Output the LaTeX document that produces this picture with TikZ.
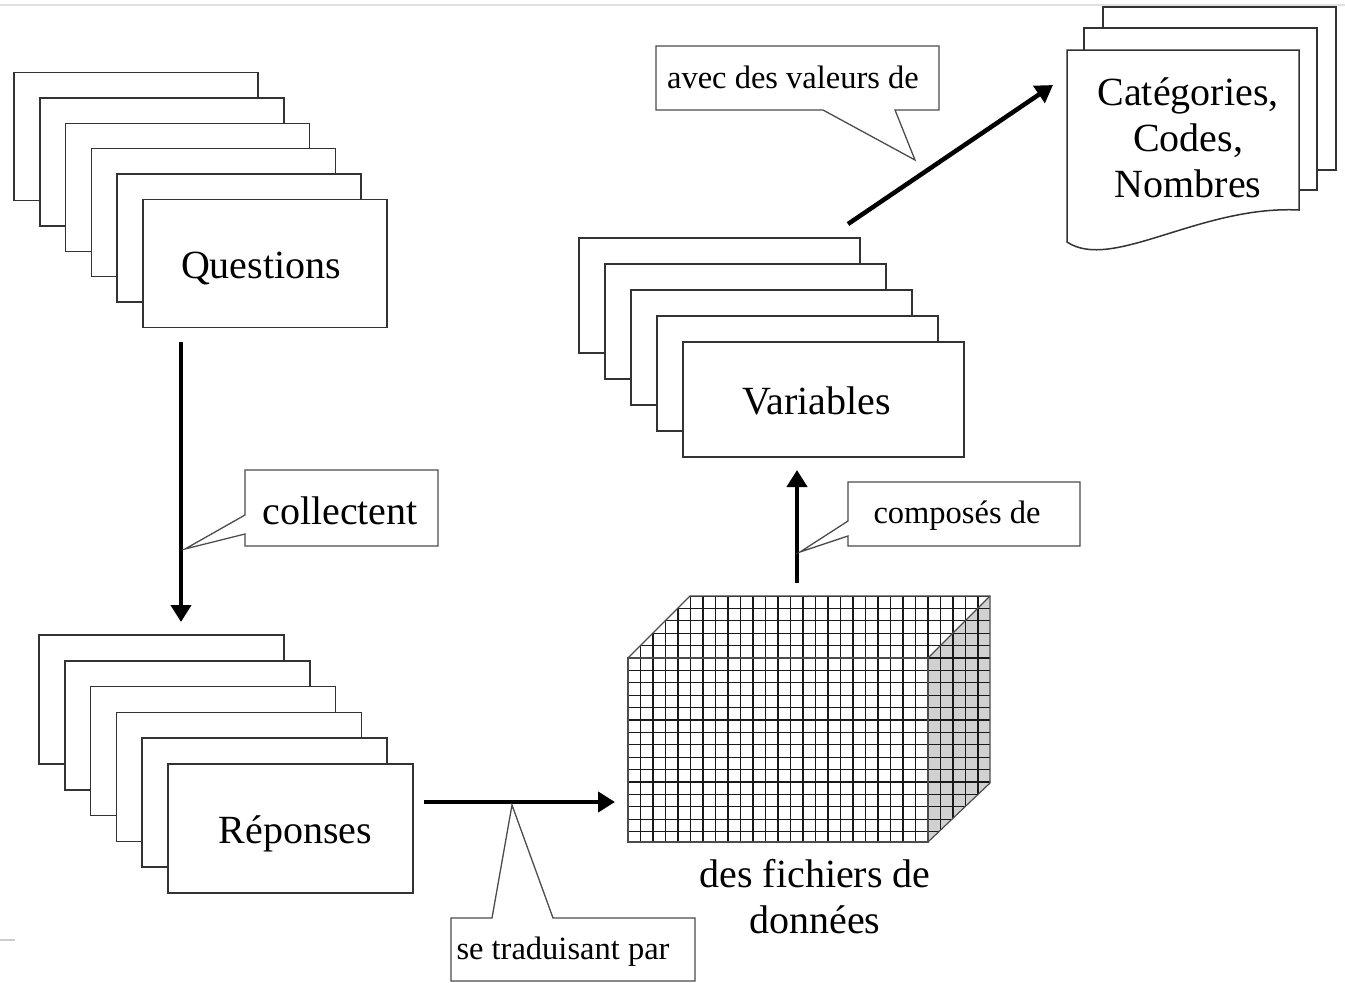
\documentclass[tikz,border=0pt]{standalone}
\usepackage{fontspec}
\setmainfont{Liberation Serif}
\usetikzlibrary{arrows.meta,calc}
\begin{document}
\begin{tikzpicture}[x=1pt,y=-1pt,
  card/.style={draw=black!80,line width=1.5pt,fill=white,inner sep=0pt,
    text height=29pt,text depth=0pt,
    font=\fontsize{40}{47}\selectfont},
  callout/.style={draw=black!70,line width=1.3pt,fill=white,line join=miter},
  small/.style={font=\fontsize{32.5}{38}\selectfont,inner sep=0pt},
  big/.style={font=\fontsize{40}{47}\selectfont,inner sep=0pt,align=center},
  arr/.style={line width=4.5pt,-{Triangle[length=17pt,width=20pt]}},
  gridl/.style={black!90,line width=1.2pt},
  edge/.style={black!70,line width=1.2pt}]
\useasboundingbox (0,0) rectangle (1345,983);
% frame artifacts
\draw[black!12,line width=2pt] (0,5) -- (1345,5);
\draw[black!20,line width=1.5pt] (0,940) -- (15,940);

% Questions stack
\foreach \k in {5,...,1}
  \node[card,minimum width=244pt,minimum height=128pt] (qb\k) at (265-25.8*\k,263.5-25.4*\k) {};
\node[card,minimum width=244pt,minimum height=128pt] (q) at (265,263.5) {Questions\hspace*{8pt}};

% Reponses stack
\foreach \k in {5,...,1}
  \node[card,minimum width=245pt,minimum height=129pt] (rb\k) at (290.5-25.8*\k,828.5-25.8*\k) {};
\node[card,minimum width=245pt,minimum height=129pt] (r) at (290.5,828.5) {\hspace*{10pt}Réponses};

% Variables stack
\foreach \k in {4,...,1}
  \node[card,minimum width=281pt,minimum height=115pt] (vb\k) at (823.5-26*\k,399.5-26*\k) {};
\node[card,minimum width=281pt,minimum height=115pt] (v) at (823.5,399.5) {Variables\hspace*{14pt}};

% document stack
\draw[callout,draw=black!80,line width=1.5pt] (1103,7) rectangle (1336,170);
\draw[callout,draw=black!80,line width=1.5pt] (1084,28) rectangle (1317,190);
\draw[callout,draw=black!80,line width=1.5pt] (1067,242) -- (1067,50) -- (1299,50) -- (1299,210)
   .. controls (1200,205) and (1112,272) .. (1067,242) -- cycle;
\node[big] (doc) at (1188,138) {Catégories,\\[-1pt]Codes,\\[-1pt]Nombres};

% cube
\begin{scope}
\clip (628,658) -- (690,596) -- (990,596) -- (990,783) -- (928,842) -- (628,842) -- cycle;
\fill[black!18] (928,658) -- (990,596) -- (990,783) -- (928,842) -- cycle;
\foreach \i in {0,...,29} \draw[gridl] (628+\i*12.5,590) -- ++(0,260);
\foreach \j in {0,...,20} \draw[gridl] (620,596+\j*12.4) -- ++(380,0);
\end{scope}
\draw[edge] (628,658) rectangle (928,842);
\draw[edge] (628,658) -- (690,596) -- (990,596) -- (990,783) -- (928,842);
\draw[edge] (928,658) -- (990,596);
\node[inner sep=0pt,minimum width=300pt,minimum height=184pt] (cube) at (778,750) {};
\node[big] (files) at (815,897) {des fichiers de\\[-1pt]données};

% connectors
\coordinate (a1s) at (181,342);
\coordinate (a1e) at (181,622);
\coordinate (a2s) at (424,802);
\coordinate (a2e) at (615,802);
\coordinate (a3s) at (797,583);
\coordinate (a3e) at (797,470);
\coordinate (a4s) at (848,224);
\coordinate (a4e) at (1053,85);
\draw[arr] (a1s) -- (a1e);
\draw[arr] (a2s) -- (a2e);
\draw[arr] (a3s) -- (a3e);
\draw[arr] (a4s) -- (a4e);

% callouts
\draw[callout] (656,46) -- (939,46) -- (939,110) -- (895,110) -- (915,160) -- (823,110) -- (656,110) -- cycle;
\node[small] (c1) at (793,77) {avec des valeurs de};

\draw[callout] (245,470) -- (438,470) -- (438,546) -- (245,546) -- (245,534) -- (185,549) -- (245,515) -- cycle;
\node[big] (c2) at (340,511) {collectent};

\draw[callout] (848,482) -- (1080,482) -- (1080,546) -- (848,546) -- (848,536) -- (800,552) -- (848,521) -- cycle;
\node[small] (c3) at (957,516) {composés de};

\draw[callout] (451,918) -- (492,918) -- (512,805) -- (553,918) -- (695,918) -- (695,981) -- (451,981) -- cycle;
\node[small] (c4) at (563,952) {se traduisant par};
\end{tikzpicture}
\end{document}
